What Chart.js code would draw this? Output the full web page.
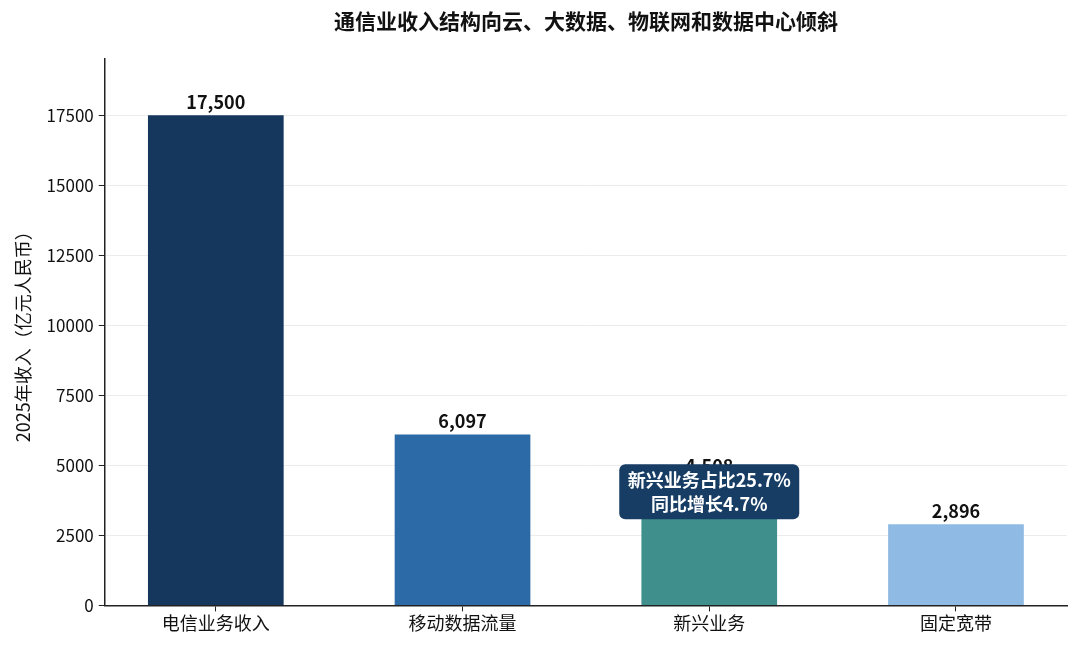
<!DOCTYPE html>
<html lang="zh">
<head>
    <meta charset="UTF-8">
    <title>通信业收入结构</title>
    <style>
        body {
            margin: 0;
            background: #fff;
        }
        #wrap {
            width: 1080px;
            height: 649px;
        }
    </style>
    <script src="https://cdn.jsdelivr.net/npm/chart.js"></script>
</head>
<body>
    <div id="wrap"><canvas id="revenue-chart"></canvas></div>

    <script>
        const categories = ['电信业务收入', '移动数据流量', '新兴业务', '固定宽带'];
        const revenue = [17500, 6097, 4508, 2896]; // 亿元
        const barColors = ['#15375e', '#2c69a7', '#3f8f8d', '#8fbae3'];
        const yTicks = [0, 2500, 5000, 7500, 10000, 12500, 15000, 17500];
        const noteLines = ['新兴业务占比25.7%', '同比增长4.7%'];
        const noteIndex = 2;

        const FONT = '"Noto Sans CJK SC", "Noto Sans", sans-serif';

        // value labels on top of each bar + the callout box over 新兴业务
        const labelPlugin = {
            id: 'barLabels',
            afterDatasetsDraw(chart) {
                const ctx = chart.ctx;
                const meta = chart.getDatasetMeta(0);
                ctx.save();
                ctx.font = 'bold 18px ' + FONT;
                ctx.fillStyle = '#111';
                ctx.textAlign = 'center';
                ctx.textBaseline = 'bottom';
                meta.data.forEach((bar, i) => {
                    ctx.fillText(revenue[i].toLocaleString('en-US'), bar.x, bar.y - 4);
                });

                const x = chart.scales.x.getPixelForValue(noteIndex);
                const y = chart.scales.y.getPixelForValue(4060);
                const w = 180, h = 55;
                ctx.fillStyle = '#173d64';
                ctx.beginPath();
                ctx.roundRect(x - w / 2, y - h / 2, w, h, 6);
                ctx.fill();
                ctx.fillStyle = '#fff';
                ctx.textBaseline = 'middle';
                ctx.fillText(noteLines[0], x, y - 12);
                ctx.fillText(noteLines[1], x, y + 12);
                ctx.restore();
            }
        };

        new Chart(document.getElementById('revenue-chart'), {
            type: 'bar',
            data: {
                datasets: [{
                    data: revenue.map((v, i) => ({ x: i, y: v })),
                    backgroundColor: barColors,
                    borderWidth: 0,
                    barPercentage: 1,
                    categoryPercentage: 0.55
                }]
            },
            options: {
                responsive: true,
                maintainAspectRatio: false,
                animation: false,
                layout: { padding: { top: 8, right: 13, left: 8, bottom: 14 } },
                plugins: {
                    legend: { display: false },
                    tooltip: { enabled: false },
                    title: {
                        display: true,
                        fullSize: false,
                        text: '通信业收入结构向云、大数据、物联网和数据中心倾斜',
                        color: '#111',
                        font: { family: FONT, size: 21, weight: 'bold' },
                        padding: { top: 0, bottom: 26 }
                    }
                },
                scales: {
                    x: {
                        type: 'linear',
                        offset: false,
                        min: -0.45,
                        max: 3.45,
                        afterBuildTicks: axis => {
                            axis.ticks = categories.map((c, i) => ({ value: i }));
                        },
                        ticks: {
                            callback: v => categories[v],
                            color: '#111',
                            font: { family: FONT, size: 18 },
                            padding: 1,
                            maxRotation: 0
                        },
                        grid: {
                            offset: false,
                            drawOnChartArea: false,
                            drawTicks: true,
                            tickLength: 6,
                            tickColor: '#222'
                        },
                        border: { color: '#222', width: 1.5 }
                    },
                    y: {
                        min: 0,
                        max: 19500,
                        afterBuildTicks: axis => {
                            axis.ticks = yTicks.map(v => ({ value: v }));
                        },
                        ticks: {
                            callback: v => String(v),
                            color: '#111',
                            font: { family: FONT, size: 17 },
                            padding: 5
                        },
                        grid: {
                            color: '#ececec',
                            tickColor: '#222',
                            tickLength: 6
                        },
                        border: { color: '#222', width: 1.5 },
                        title: {
                            display: true,
                            text: '2025年收入（亿元人民币）',
                            color: '#111',
                            font: { family: FONT, size: 18 },
                            padding: { bottom: 8 }
                        }
                    }
                }
            },
            plugins: [labelPlugin]
        });
    </script>
</body>
</html>
